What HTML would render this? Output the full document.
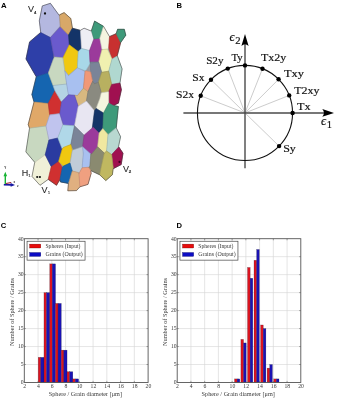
<!DOCTYPE html>
<html><head><meta charset="utf-8"><title>Figure</title>
<style>
html,body{margin:0;padding:0;background:#fff;}
svg{display:block}
.ss{font-family:"Liberation Sans",sans-serif}
.sf{font-family:"Liberation Serif",serif}
</style></head><body>
<svg width="337" height="400" viewBox="0 0 337 400">
<rect width="337" height="400" fill="#fff"/>

<g id="panelA" stroke-linejoin="round">
<polygon fill="#9a9aa0" points="40.7,32.3 29.6,41.9 26.0,59.0 36.2,76.7 31.9,94.5 34.0,102.0 28.2,124.5 29.5,128.3 25.9,151.9 34.7,162.3 32.0,176.4 40.0,185.3 48.2,179.4 56.5,185.3 59.5,180.2 59.8,180.0 60.1,180.3 60.4,181.9 68.4,183.5 67.8,190.8 76.5,190.6 80.0,186.8 88.0,184.4 91.2,173.3 90.8,171.0 90.9,170.7 99.7,174.8 105.8,180.6 112.4,174.7 113.2,168.7 121.2,164.6 123.0,153.2 118.5,146.6 120.6,136.7 116.3,127.8 118.4,106.5 114.3,105.6 114.1,105.3 114.2,105.0 118.4,103.2 121.4,89.8 120.0,83.0 122.1,68.9 117.3,55.7 120.7,42.6 125.8,35.2 124.3,29.3 117.6,29.3 116.1,33.7 109.5,36.5 103.5,26.3 94.6,21.1 91.2,31.0 84.1,28.2 80.4,30.3 72.5,28.2 70.8,18.5 64.1,12.6 59.6,14.8 59.4,15.2 59.1,15.2 50.4,3.3 42.3,5.9 39.3,20.8 40.7,32.3"/>
<g stroke-width="0.5">
<polygon fill="#B4B8E0" stroke="#B4B8E0" points="42.3,5.9 50.4,3.3 59.3,15.6 60.0,26.0 50.4,37.5 40.8,32.5 39.3,20.8"/>
<polygon fill="#2E3FA8" stroke="#2E3FA8" points="40.8,32.5 50.4,37.5 53.4,53.7 53.4,59.0 48.2,73.0 36.3,76.7 26.0,59.0 29.6,41.9"/>
<polygon fill="#1565B0" stroke="#1565B0" points="36.3,76.7 48.2,73.0 54.9,90.8 48.2,103.4 34.1,101.9 31.9,94.5"/>
<polygon fill="#E0A868" stroke="#E0A868" points="34.1,102.0 48.2,103.5 49.7,114.8 46.0,126.0 29.6,128.2 28.2,124.5"/>
<polygon fill="#C8D8C0" stroke="#C8D8C0" points="29.6,128.2 46.0,126.0 48.9,140.0 45.2,154.8 34.8,162.3 25.9,151.9"/>
<polygon fill="#F0F0D8" stroke="#F0F0D8" points="34.8,162.3 45.2,154.8 51.2,166.7 48.2,179.3 40.0,185.3 32.0,176.4"/>
<polygon fill="#D03030" stroke="#D03030" points="54.9,90.8 61.5,101.9 59.8,113.6 49.7,115.3 48.2,103.4"/>
<polygon fill="#C0C4EE" stroke="#C0C4EE" points="49.7,114.8 59.8,113.6 62.8,124.8 57.8,137.8 48.9,140.0 46.0,126.0"/>
<polygon fill="#2A3BA0" stroke="#2A3BA0" points="48.9,140.0 57.8,138.0 62.2,149.0 58.6,161.5 51.2,166.7 45.2,154.8"/>
<polygon fill="#D03030" stroke="#D03030" points="51.2,166.7 58.6,161.5 62.3,167.4 60.0,179.3 56.5,185.3 48.2,179.3"/>
<polygon fill="#6A5ACD" stroke="#6A5ACD" points="50.4,37.5 60.4,26.7 68.5,34.9 69.3,44.8 63.0,57.8 55.0,57.0 53.4,53.7"/>
<polygon fill="#D8A868" stroke="#D8A868" points="59.6,14.8 64.1,12.6 70.8,18.5 72.3,28.2 68.5,34.9 60.4,26.7"/>
<polygon fill="#143468" stroke="#143468" points="72.3,28.2 80.4,30.4 81.5,48.3 78.2,51.5 69.3,44.8 68.5,34.9"/>
<polygon fill="#EEEEF4" stroke="#EEEEF4" points="80.4,30.4 84.1,28.2 91.3,31.2 93.7,39.3 89.4,50.5 81.5,48.5"/>
<polygon fill="#F0C810" stroke="#F0C810" points="69.3,44.8 78.2,51.5 77.4,67.8 68.5,75.5 64.8,70.8 62.8,58.0"/>
<polygon fill="#C8D8C0" stroke="#C8D8C0" points="53.4,59.0 55.0,57.0 63.0,57.8 64.8,70.8 66.6,84.0 53.0,85.5 48.3,73.0"/>
<polygon fill="#B4D4E4" stroke="#B4D4E4" points="53.0,85.5 66.6,84.0 68.4,94.8 61.5,101.9 54.9,90.8"/>
<polygon fill="#A8C0F0" stroke="#A8C0F0" points="64.8,70.8 68.5,75.5 77.4,67.8 85.0,71.5 83.4,88.2 77.4,95.6 74.5,95.2 68.4,94.8 66.0,80.0"/>
<polygon fill="#A8D8E8" stroke="#A8D8E8" points="78.2,51.5 81.5,48.4 89.4,50.5 90.0,63.5 85.6,70.8 77.4,67.8"/>
<polygon fill="#9B3A9B" stroke="#9B3A9B" points="93.9,38.9 99.8,38.2 102.0,49.6 98.7,61.9 91.7,63.0 90.0,62.0 89.4,51.0"/>
<polygon fill="#3E9A7A" stroke="#3E9A7A" points="91.5,30.8 94.6,21.1 103.5,26.3 99.8,38.2 93.9,38.9"/>
<polygon fill="#F5F5E0" stroke="#F5F5E0" points="103.5,26.3 109.5,36.7 108.7,47.8 107.3,49.3 102.0,49.6 99.8,38.2"/>
<polygon fill="#C83030" stroke="#C83030" points="109.5,36.7 116.2,33.7 120.6,42.6 117.2,55.8 112.0,58.8 108.7,47.8"/>
<polygon fill="#3E9A7A" stroke="#3E9A7A" points="116.2,33.7 117.6,29.3 124.3,29.3 125.8,35.2 120.6,42.6"/>
<polygon fill="#F0F0B0" stroke="#F0F0B0" points="102.0,49.6 107.3,48.9 112.0,59.0 108.7,71.2 101.7,72.2 98.7,61.9"/>
<polygon fill="#B0D8D0" stroke="#B0D8D0" points="112.0,59.0 117.4,56.0 122.1,68.9 119.9,83.0 111.7,84.4 108.7,71.2"/>
<polygon fill="#7A8498" stroke="#7A8498" points="90.0,62.0 98.7,61.9 101.7,72.2 98.4,82.3 94.6,83.8 92.6,81.2 90.7,72.0"/>
<polygon fill="#B8B060" stroke="#B8B060" points="101.7,72.2 108.7,71.2 111.7,84.4 108.7,91.7 101.3,92.8 98.4,82.3"/>
<polygon fill="#A01050" stroke="#A01050" points="111.7,84.4 119.9,83.0 121.4,89.8 118.4,103.2 113.2,105.4 108.7,102.5 108.7,91.7"/>
<polygon fill="#F09878" stroke="#F09878" points="85.0,71.5 85.6,70.8 90.7,72.0 92.6,81.2 88.0,91.5 83.4,88.2"/>
<polygon fill="#D8B880" stroke="#D8B880" points="77.4,95.6 83.4,88.2 88.0,91.5 86.4,101.1 78.2,106.3 74.5,95.2"/>
<polygon fill="#8A8A80" stroke="#8A8A80" points="88.0,91.5 92.6,81.2 94.6,83.8 98.4,82.3 101.3,92.8 99.8,98.7 96.1,108.4 94.5,110.8 86.4,101.1"/>
<polygon fill="#F5F5E0" stroke="#F5F5E0" points="101.3,92.8 108.7,91.7 108.7,103.2 103.5,113.0 96.1,108.4 99.8,98.7"/>
<polygon fill="#6A5ACD" stroke="#6A5ACD" points="68.4,94.8 74.5,95.2 78.2,106.3 74.5,125.8 63.5,125.0 59.8,113.6 61.5,101.9"/>
<polygon fill="#E8E6F2" stroke="#E8E6F2" points="78.2,106.3 86.4,101.1 94.5,110.8 92.3,127.9 84.1,135.2 74.5,125.8"/>
<polygon fill="#143468" stroke="#143468" points="94.5,110.8 96.1,108.4 103.5,113.0 102.8,128.5 99.1,133.0 93.2,127.3 92.3,127.9"/>
<polygon fill="#3E9A7A" stroke="#3E9A7A" points="103.5,113.0 108.7,103.2 113.2,105.4 118.4,106.5 116.2,127.8 108.0,134.5 102.8,128.5"/>
<polygon fill="#B0D8E8" stroke="#B0D8E8" points="62.8,124.8 63.5,125.0 74.5,125.8 70.8,144.5 63.4,147.4 62.2,149.0 57.8,137.8"/>
<polygon fill="#7A8498" stroke="#7A8498" points="74.5,125.8 84.1,135.2 82.6,146.7 73.7,149.7 70.8,144.5"/>
<polygon fill="#9B3A9B" stroke="#9B3A9B" points="84.1,135.2 92.3,127.9 93.2,127.3 99.1,133.0 97.6,146.8 91.7,153.9 90.8,154.1 82.6,146.7"/>
<polygon fill="#F0E8A0" stroke="#F0E8A0" points="99.1,133.0 102.8,128.5 108.0,134.5 106.6,151.0 104.3,153.1 97.6,146.8"/>
<polygon fill="#B8D8D0" stroke="#B8D8D0" points="108.0,134.5 116.2,127.8 120.6,136.7 118.4,146.9 111.7,154.6 106.6,151.0"/>
<polygon fill="#A01050" stroke="#A01050" points="111.7,154.6 118.8,146.9 123.0,153.2 121.2,164.6 113.5,168.6 113.2,167.3"/>
<polygon fill="#F0C810" stroke="#F0C810" points="63.4,147.4 70.8,144.5 72.3,150.4 70.0,163.0 63.4,166.0 58.6,161.5 62.2,149.0"/>
<polygon fill="#C0CCD8" stroke="#C0CCD8" points="72.3,150.4 73.7,149.7 82.6,146.7 83.3,153.6 82.1,167.8 79.0,173.5 78.5,172.5 72.3,171.0 70.0,163.0"/>
<polygon fill="#A8C0F0" stroke="#A8C0F0" points="82.6,146.7 90.8,154.1 89.8,166.6 88.6,167.2 82.1,167.8 83.3,153.6"/>
<polygon fill="#8A8A70" stroke="#8A8A70" points="90.8,154.1 91.7,153.9 97.6,146.8 104.3,153.1 100.8,168.7 99.7,174.8 90.6,170.3 88.6,167.2 89.8,166.6"/>
<polygon fill="#C0B860" stroke="#C0B860" points="104.3,153.1 106.6,151.0 111.7,154.6 113.2,167.3 112.4,174.7 105.8,180.6 99.7,174.8 100.8,168.7"/>
<polygon fill="#1565B0" stroke="#1565B0" points="62.3,167.4 63.4,166.0 70.0,163.0 72.3,171.0 68.5,183.4 60.4,181.9 60.0,179.3"/>
<polygon fill="#E0B080" stroke="#E0B080" points="72.3,171.0 78.5,172.5 79.0,175.0 79.9,186.8 76.5,190.6 67.8,190.8 68.5,183.4"/>
<polygon fill="#F0A080" stroke="#F0A080" points="82.1,167.8 88.6,167.2 90.6,170.3 91.2,173.3 88.0,184.4 79.9,186.8 79.0,175.0 79.0,173.5"/>
</g>
<g fill="none" stroke="#222" stroke-opacity="0.16" stroke-width="0.4">
<polygon points="42.3,5.9 50.4,3.3 59.3,15.6 60.0,26.0 50.4,37.5 40.8,32.5 39.3,20.8"/>
<polygon points="40.8,32.5 50.4,37.5 53.4,53.7 53.4,59.0 48.2,73.0 36.3,76.7 26.0,59.0 29.6,41.9"/>
<polygon points="36.3,76.7 48.2,73.0 54.9,90.8 48.2,103.4 34.1,101.9 31.9,94.5"/>
<polygon points="34.1,102.0 48.2,103.5 49.7,114.8 46.0,126.0 29.6,128.2 28.2,124.5"/>
<polygon points="29.6,128.2 46.0,126.0 48.9,140.0 45.2,154.8 34.8,162.3 25.9,151.9"/>
<polygon points="34.8,162.3 45.2,154.8 51.2,166.7 48.2,179.3 40.0,185.3 32.0,176.4"/>
<polygon points="54.9,90.8 61.5,101.9 59.8,113.6 49.7,115.3 48.2,103.4"/>
<polygon points="49.7,114.8 59.8,113.6 62.8,124.8 57.8,137.8 48.9,140.0 46.0,126.0"/>
<polygon points="48.9,140.0 57.8,138.0 62.2,149.0 58.6,161.5 51.2,166.7 45.2,154.8"/>
<polygon points="51.2,166.7 58.6,161.5 62.3,167.4 60.0,179.3 56.5,185.3 48.2,179.3"/>
<polygon points="50.4,37.5 60.4,26.7 68.5,34.9 69.3,44.8 63.0,57.8 55.0,57.0 53.4,53.7"/>
<polygon points="59.6,14.8 64.1,12.6 70.8,18.5 72.3,28.2 68.5,34.9 60.4,26.7"/>
<polygon points="72.3,28.2 80.4,30.4 81.5,48.3 78.2,51.5 69.3,44.8 68.5,34.9"/>
<polygon points="80.4,30.4 84.1,28.2 91.3,31.2 93.7,39.3 89.4,50.5 81.5,48.5"/>
<polygon points="69.3,44.8 78.2,51.5 77.4,67.8 68.5,75.5 64.8,70.8 62.8,58.0"/>
<polygon points="53.4,59.0 55.0,57.0 63.0,57.8 64.8,70.8 66.6,84.0 53.0,85.5 48.3,73.0"/>
<polygon points="53.0,85.5 66.6,84.0 68.4,94.8 61.5,101.9 54.9,90.8"/>
<polygon points="64.8,70.8 68.5,75.5 77.4,67.8 85.0,71.5 83.4,88.2 77.4,95.6 74.5,95.2 68.4,94.8 66.0,80.0"/>
<polygon points="78.2,51.5 81.5,48.4 89.4,50.5 90.0,63.5 85.6,70.8 77.4,67.8"/>
<polygon points="93.9,38.9 99.8,38.2 102.0,49.6 98.7,61.9 91.7,63.0 90.0,62.0 89.4,51.0"/>
<polygon points="91.5,30.8 94.6,21.1 103.5,26.3 99.8,38.2 93.9,38.9"/>
<polygon points="103.5,26.3 109.5,36.7 108.7,47.8 107.3,49.3 102.0,49.6 99.8,38.2"/>
<polygon points="109.5,36.7 116.2,33.7 120.6,42.6 117.2,55.8 112.0,58.8 108.7,47.8"/>
<polygon points="116.2,33.7 117.6,29.3 124.3,29.3 125.8,35.2 120.6,42.6"/>
<polygon points="102.0,49.6 107.3,48.9 112.0,59.0 108.7,71.2 101.7,72.2 98.7,61.9"/>
<polygon points="112.0,59.0 117.4,56.0 122.1,68.9 119.9,83.0 111.7,84.4 108.7,71.2"/>
<polygon points="90.0,62.0 98.7,61.9 101.7,72.2 98.4,82.3 94.6,83.8 92.6,81.2 90.7,72.0"/>
<polygon points="101.7,72.2 108.7,71.2 111.7,84.4 108.7,91.7 101.3,92.8 98.4,82.3"/>
<polygon points="111.7,84.4 119.9,83.0 121.4,89.8 118.4,103.2 113.2,105.4 108.7,102.5 108.7,91.7"/>
<polygon points="85.0,71.5 85.6,70.8 90.7,72.0 92.6,81.2 88.0,91.5 83.4,88.2"/>
<polygon points="77.4,95.6 83.4,88.2 88.0,91.5 86.4,101.1 78.2,106.3 74.5,95.2"/>
<polygon points="88.0,91.5 92.6,81.2 94.6,83.8 98.4,82.3 101.3,92.8 99.8,98.7 96.1,108.4 94.5,110.8 86.4,101.1"/>
<polygon points="101.3,92.8 108.7,91.7 108.7,103.2 103.5,113.0 96.1,108.4 99.8,98.7"/>
<polygon points="68.4,94.8 74.5,95.2 78.2,106.3 74.5,125.8 63.5,125.0 59.8,113.6 61.5,101.9"/>
<polygon points="78.2,106.3 86.4,101.1 94.5,110.8 92.3,127.9 84.1,135.2 74.5,125.8"/>
<polygon points="94.5,110.8 96.1,108.4 103.5,113.0 102.8,128.5 99.1,133.0 93.2,127.3 92.3,127.9"/>
<polygon points="103.5,113.0 108.7,103.2 113.2,105.4 118.4,106.5 116.2,127.8 108.0,134.5 102.8,128.5"/>
<polygon points="62.8,124.8 63.5,125.0 74.5,125.8 70.8,144.5 63.4,147.4 62.2,149.0 57.8,137.8"/>
<polygon points="74.5,125.8 84.1,135.2 82.6,146.7 73.7,149.7 70.8,144.5"/>
<polygon points="84.1,135.2 92.3,127.9 93.2,127.3 99.1,133.0 97.6,146.8 91.7,153.9 90.8,154.1 82.6,146.7"/>
<polygon points="99.1,133.0 102.8,128.5 108.0,134.5 106.6,151.0 104.3,153.1 97.6,146.8"/>
<polygon points="108.0,134.5 116.2,127.8 120.6,136.7 118.4,146.9 111.7,154.6 106.6,151.0"/>
<polygon points="111.7,154.6 118.8,146.9 123.0,153.2 121.2,164.6 113.5,168.6 113.2,167.3"/>
<polygon points="63.4,147.4 70.8,144.5 72.3,150.4 70.0,163.0 63.4,166.0 58.6,161.5 62.2,149.0"/>
<polygon points="72.3,150.4 73.7,149.7 82.6,146.7 83.3,153.6 82.1,167.8 79.0,173.5 78.5,172.5 72.3,171.0 70.0,163.0"/>
<polygon points="82.6,146.7 90.8,154.1 89.8,166.6 88.6,167.2 82.1,167.8 83.3,153.6"/>
<polygon points="90.8,154.1 91.7,153.9 97.6,146.8 104.3,153.1 100.8,168.7 99.7,174.8 90.6,170.3 88.6,167.2 89.8,166.6"/>
<polygon points="104.3,153.1 106.6,151.0 111.7,154.6 113.2,167.3 112.4,174.7 105.8,180.6 99.7,174.8 100.8,168.7"/>
<polygon points="62.3,167.4 63.4,166.0 70.0,163.0 72.3,171.0 68.5,183.4 60.4,181.9 60.0,179.3"/>
<polygon points="72.3,171.0 78.5,172.5 79.0,175.0 79.9,186.8 76.5,190.6 67.8,190.8 68.5,183.4"/>
<polygon points="82.1,167.8 88.6,167.2 90.6,170.3 91.2,173.3 88.0,184.4 79.9,186.8 79.0,175.0 79.0,173.5"/>
</g>
<polygon fill="none" stroke="#333" stroke-opacity="0.85" stroke-width="0.55" points="40.7,32.3 29.6,41.9 26.0,59.0 36.2,76.7 31.9,94.5 34.0,102.0 28.2,124.5 29.5,128.3 25.9,151.9 34.7,162.3 32.0,176.4 40.0,185.3 48.2,179.4 56.5,185.3 59.5,180.2 59.8,180.0 60.1,180.3 60.4,181.9 68.4,183.5 67.8,190.8 76.5,190.6 80.0,186.8 88.0,184.4 91.2,173.3 90.8,171.0 90.9,170.7 99.7,174.8 105.8,180.6 112.4,174.7 113.2,168.7 121.2,164.6 123.0,153.2 118.5,146.6 120.6,136.7 116.3,127.8 118.4,106.5 114.3,105.6 114.1,105.3 114.2,105.0 118.4,103.2 121.4,89.8 120.0,83.0 122.1,68.9 117.3,55.7 120.7,42.6 125.8,35.2 124.3,29.3 117.6,29.3 116.1,33.7 109.5,36.5 103.5,26.3 94.6,21.1 91.2,31.0 84.1,28.2 80.4,30.3 72.5,28.2 70.8,18.5 64.1,12.6 59.6,14.8 59.4,15.2 59.1,15.2 50.4,3.3 42.3,5.9 39.3,20.8 40.7,32.3"/>
</g>
<g class="ss" fill="#333">
<text x="1.1" y="7.7" font-size="7.8" font-weight="bold" fill="#000" stroke="none">A</text>
<g fill="#2a2a2a" stroke="#2a2a2a" stroke-width="0.1" font-size="9">
<text x="27.9" y="12.3">V<tspan font-size="4.2" dx="0.1" dy="1.5" font-weight="bold">4</tspan></text>
<text x="21.8" y="175.7">H<tspan font-size="4.4" dx="0" dy="1.7">1</tspan></text>
<text x="41.6" y="192.8">V<tspan font-size="4.4" dx="0.2" dy="1.6">1</tspan></text>
<text x="123.1" y="171.5">V<tspan font-size="4.4" dx="-0.3" dy="1.8" font-weight="bold">2</tspan></text>
</g>
</g>
<g fill="#111">
<circle cx="45" cy="13.5" r="1.15"/>
<circle cx="37.2" cy="177" r="1.1"/>
<circle cx="39.9" cy="177" r="1.1"/>
<circle cx="119.5" cy="161.9" r="1.1" fill="#400020"/>
</g>
<g id="triad">
<line x1="5.3" y1="184.4" x2="5.3" y2="175.6" stroke="#18b434" stroke-width="1.4"/>
<polygon points="5.3,171.7 7.1,176.3 3.5,176.3" fill="#18b434"/>
<line x1="6" y1="183.5" x2="11.2" y2="182.5" stroke="#9c1828" stroke-width="1.1"/>
<line x1="3.8" y1="184.7" x2="11.6" y2="184.9" stroke="#1a1aa4" stroke-width="1.6"/>
<polygon points="15,184.9 10.6,183 10.6,186.8" fill="#1a1aa4"/>
<text class="ss" x="4.3" y="168.6" font-size="3" fill="#222" font-weight="bold">Y</text>
<text class="ss" x="13.6" y="183.2" font-size="3" fill="#222" font-weight="bold">x</text>
<text class="ss" x="16.9" y="186.8" font-size="3.2" fill="#222" font-weight="bold">z</text>
</g>

<g id="panelB">
<text class="ss" x="176.5" y="7.7" font-size="7.6" font-weight="bold" fill="#000">B</text>
<line x1="245.0" y1="112.95" x2="289.2" y2="95.4" stroke="#c6c6c6" stroke-width="0.9"/>
<line x1="245.0" y1="112.95" x2="278.6" y2="79.3" stroke="#c6c6c6" stroke-width="0.9"/>
<line x1="245.0" y1="112.95" x2="262.5" y2="68.7" stroke="#c6c6c6" stroke-width="0.9"/>
<line x1="245.0" y1="112.95" x2="227.8" y2="68.6" stroke="#c6c6c6" stroke-width="0.9"/>
<line x1="245.0" y1="112.95" x2="211.0" y2="79.7" stroke="#c6c6c6" stroke-width="0.9"/>
<line x1="245.0" y1="112.95" x2="200.7" y2="95.8" stroke="#c6c6c6" stroke-width="0.9"/>
<line x1="245.0" y1="112.95" x2="279.1" y2="146.1" stroke="#c6c6c6" stroke-width="0.9"/>
<line x1="183.4" y1="112.95" x2="327" y2="112.95" stroke="#4a4a4a" stroke-width="1.4"/>
<line x1="245.0" y1="168.3" x2="245.0" y2="42" stroke="#4a4a4a" stroke-width="1.4"/>
<path d="M334,112.95 L322.3,109.05 Q325.6,112.95 322.3,116.85000000000001 Z" fill="#000"/>
<path d="M245.0,34.1 L241.4,45.9 Q245.0,42.6 248.6,45.9 Z" fill="#000"/>
<circle cx="245.0" cy="112.95" r="47.55" fill="none" stroke="#111" stroke-width="1.1"/>
<circle cx="292.6" cy="113.0" r="2.2" fill="#000"/>
<circle cx="289.2" cy="95.4" r="2.2" fill="#000"/>
<circle cx="278.6" cy="79.3" r="2.2" fill="#000"/>
<circle cx="262.5" cy="68.7" r="2.2" fill="#000"/>
<circle cx="245.0" cy="65.4" r="2.2" fill="#000"/>
<circle cx="227.8" cy="68.6" r="2.2" fill="#000"/>
<circle cx="211.0" cy="79.7" r="2.2" fill="#000"/>
<circle cx="200.7" cy="95.8" r="2.2" fill="#000"/>
<circle cx="279.1" cy="146.1" r="2.2" fill="#000"/>
<g class="sf" font-size="11.4" fill="#111" stroke="#111" stroke-width="0.18">
<text x="231.5" y="60.7" textLength="11.2" lengthAdjust="spacingAndGlyphs">Ty</text>
<text x="206.2" y="64" textLength="17.3" lengthAdjust="spacingAndGlyphs">S2y</text>
<text x="192.3" y="80.9" textLength="12.2" lengthAdjust="spacingAndGlyphs">Sx</text>
<text x="176.1" y="97.8" textLength="18" lengthAdjust="spacingAndGlyphs">S2x</text>
<text x="261" y="61.2" textLength="25.3" lengthAdjust="spacingAndGlyphs">Tx2y</text>
<text x="283.9" y="77.2" textLength="20" lengthAdjust="spacingAndGlyphs">Txy</text>
<text x="294.3" y="94.2" textLength="25.2" lengthAdjust="spacingAndGlyphs">T2xy</text>
<text x="297.1" y="110.3" textLength="13.6" lengthAdjust="spacingAndGlyphs">Tx</text>
<text x="283.2" y="152.4" textLength="12.6" lengthAdjust="spacingAndGlyphs">Sy</text>
<text x="229.4" y="41" font-size="12.5" font-style="italic">ϵ<tspan font-size="10.6" font-style="normal" dx="0.7" dy="3">2</tspan></text>
<text x="320.9" y="124.7" font-size="12.5" font-style="italic">ϵ<tspan font-size="10.6" font-style="normal" dx="0.7" dy="3">1</tspan></text>
</g>
</g>
<g id="panelC">
<text class="ss" x="0.85" y="227.8" font-size="7.6" font-weight="bold" fill="#000">C</text>
<rect x="24.3" y="238.7" width="123.80" height="143.80" fill="#fff"/>
<line x1="38.06" y1="238.7" x2="38.06" y2="382.5" stroke="#d4d4d4" stroke-width="0.6"/>
<line x1="51.81" y1="238.7" x2="51.81" y2="382.5" stroke="#d4d4d4" stroke-width="0.6"/>
<line x1="65.57" y1="238.7" x2="65.57" y2="382.5" stroke="#d4d4d4" stroke-width="0.6"/>
<line x1="79.32" y1="238.7" x2="79.32" y2="382.5" stroke="#d4d4d4" stroke-width="0.6"/>
<line x1="93.08" y1="238.7" x2="93.08" y2="382.5" stroke="#d4d4d4" stroke-width="0.6"/>
<line x1="106.83" y1="238.7" x2="106.83" y2="382.5" stroke="#d4d4d4" stroke-width="0.6"/>
<line x1="120.59" y1="238.7" x2="120.59" y2="382.5" stroke="#d4d4d4" stroke-width="0.6"/>
<line x1="134.34" y1="238.7" x2="134.34" y2="382.5" stroke="#d4d4d4" stroke-width="0.6"/>
<line x1="24.3" y1="364.52" x2="148.1" y2="364.52" stroke="#d4d4d4" stroke-width="0.6"/>
<line x1="24.3" y1="346.55" x2="148.1" y2="346.55" stroke="#d4d4d4" stroke-width="0.6"/>
<line x1="24.3" y1="328.57" x2="148.1" y2="328.57" stroke="#d4d4d4" stroke-width="0.6"/>
<line x1="24.3" y1="310.60" x2="148.1" y2="310.60" stroke="#d4d4d4" stroke-width="0.6"/>
<line x1="24.3" y1="292.62" x2="148.1" y2="292.62" stroke="#d4d4d4" stroke-width="0.6"/>
<line x1="24.3" y1="274.65" x2="148.1" y2="274.65" stroke="#d4d4d4" stroke-width="0.6"/>
<line x1="24.3" y1="256.68" x2="148.1" y2="256.68" stroke="#d4d4d4" stroke-width="0.6"/>
<line x1="38.06" y1="382.5" x2="38.06" y2="380.9" stroke="#555" stroke-width="0.5"/>
<line x1="38.06" y1="238.7" x2="38.06" y2="240.29999999999998" stroke="#555" stroke-width="0.5"/>
<line x1="51.81" y1="382.5" x2="51.81" y2="380.9" stroke="#555" stroke-width="0.5"/>
<line x1="51.81" y1="238.7" x2="51.81" y2="240.29999999999998" stroke="#555" stroke-width="0.5"/>
<line x1="65.57" y1="382.5" x2="65.57" y2="380.9" stroke="#555" stroke-width="0.5"/>
<line x1="65.57" y1="238.7" x2="65.57" y2="240.29999999999998" stroke="#555" stroke-width="0.5"/>
<line x1="79.32" y1="382.5" x2="79.32" y2="380.9" stroke="#555" stroke-width="0.5"/>
<line x1="79.32" y1="238.7" x2="79.32" y2="240.29999999999998" stroke="#555" stroke-width="0.5"/>
<line x1="93.08" y1="382.5" x2="93.08" y2="380.9" stroke="#555" stroke-width="0.5"/>
<line x1="93.08" y1="238.7" x2="93.08" y2="240.29999999999998" stroke="#555" stroke-width="0.5"/>
<line x1="106.83" y1="382.5" x2="106.83" y2="380.9" stroke="#555" stroke-width="0.5"/>
<line x1="106.83" y1="238.7" x2="106.83" y2="240.29999999999998" stroke="#555" stroke-width="0.5"/>
<line x1="120.59" y1="382.5" x2="120.59" y2="380.9" stroke="#555" stroke-width="0.5"/>
<line x1="120.59" y1="238.7" x2="120.59" y2="240.29999999999998" stroke="#555" stroke-width="0.5"/>
<line x1="134.34" y1="382.5" x2="134.34" y2="380.9" stroke="#555" stroke-width="0.5"/>
<line x1="134.34" y1="238.7" x2="134.34" y2="240.29999999999998" stroke="#555" stroke-width="0.5"/>
<line x1="24.3" y1="364.52" x2="25.900000000000002" y2="364.52" stroke="#555" stroke-width="0.5"/>
<line x1="148.1" y1="364.52" x2="146.5" y2="364.52" stroke="#555" stroke-width="0.5"/>
<line x1="24.3" y1="346.55" x2="25.900000000000002" y2="346.55" stroke="#555" stroke-width="0.5"/>
<line x1="148.1" y1="346.55" x2="146.5" y2="346.55" stroke="#555" stroke-width="0.5"/>
<line x1="24.3" y1="328.57" x2="25.900000000000002" y2="328.57" stroke="#555" stroke-width="0.5"/>
<line x1="148.1" y1="328.57" x2="146.5" y2="328.57" stroke="#555" stroke-width="0.5"/>
<line x1="24.3" y1="310.60" x2="25.900000000000002" y2="310.60" stroke="#555" stroke-width="0.5"/>
<line x1="148.1" y1="310.60" x2="146.5" y2="310.60" stroke="#555" stroke-width="0.5"/>
<line x1="24.3" y1="292.62" x2="25.900000000000002" y2="292.62" stroke="#555" stroke-width="0.5"/>
<line x1="148.1" y1="292.62" x2="146.5" y2="292.62" stroke="#555" stroke-width="0.5"/>
<line x1="24.3" y1="274.65" x2="25.900000000000002" y2="274.65" stroke="#555" stroke-width="0.5"/>
<line x1="148.1" y1="274.65" x2="146.5" y2="274.65" stroke="#555" stroke-width="0.5"/>
<line x1="24.3" y1="256.68" x2="25.900000000000002" y2="256.68" stroke="#555" stroke-width="0.5"/>
<line x1="148.1" y1="256.68" x2="146.5" y2="256.68" stroke="#555" stroke-width="0.5"/>
<rect x="38.20" y="357.33" width="2.54" height="25.17" fill="#dc1420" stroke="#101020" stroke-opacity="0.55" stroke-width="0.35"/>
<rect x="40.74" y="357.33" width="3.23" height="25.17" fill="#1a12b4" stroke="#101020" stroke-opacity="0.55" stroke-width="0.35"/>
<rect x="43.97" y="292.62" width="2.54" height="89.88" fill="#dc1420" stroke="#101020" stroke-opacity="0.55" stroke-width="0.35"/>
<rect x="46.51" y="292.62" width="3.23" height="89.88" fill="#1a12b4" stroke="#101020" stroke-opacity="0.55" stroke-width="0.35"/>
<rect x="49.74" y="263.87" width="2.54" height="118.64" fill="#dc1420" stroke="#101020" stroke-opacity="0.55" stroke-width="0.35"/>
<rect x="52.28" y="263.87" width="3.23" height="118.64" fill="#1a12b4" stroke="#101020" stroke-opacity="0.55" stroke-width="0.35"/>
<rect x="55.51" y="303.41" width="2.54" height="79.09" fill="#dc1420" stroke="#101020" stroke-opacity="0.55" stroke-width="0.35"/>
<rect x="58.05" y="303.41" width="3.23" height="79.09" fill="#1a12b4" stroke="#101020" stroke-opacity="0.55" stroke-width="0.35"/>
<rect x="61.28" y="350.14" width="2.54" height="32.36" fill="#dc1420" stroke="#101020" stroke-opacity="0.55" stroke-width="0.35"/>
<rect x="63.82" y="350.14" width="3.23" height="32.36" fill="#1a12b4" stroke="#101020" stroke-opacity="0.55" stroke-width="0.35"/>
<rect x="67.05" y="371.71" width="2.54" height="10.79" fill="#dc1420" stroke="#101020" stroke-opacity="0.55" stroke-width="0.35"/>
<rect x="69.59" y="371.71" width="3.23" height="10.79" fill="#1a12b4" stroke="#101020" stroke-opacity="0.55" stroke-width="0.35"/>
<rect x="72.82" y="378.90" width="2.54" height="3.60" fill="#dc1420" stroke="#101020" stroke-opacity="0.55" stroke-width="0.35"/>
<rect x="75.36" y="378.90" width="3.23" height="3.60" fill="#1a12b4" stroke="#101020" stroke-opacity="0.55" stroke-width="0.35"/>
<rect x="24.3" y="238.7" width="123.80" height="143.80" fill="none" stroke="#555" stroke-width="0.9"/>
<g class="sf" font-size="5.7" fill="#3a3a3a">
<text x="24.60" y="388.3" text-anchor="middle">2</text>
<text x="38.36" y="388.3" text-anchor="middle">4</text>
<text x="52.11" y="388.3" text-anchor="middle">6</text>
<text x="65.87" y="388.3" text-anchor="middle">8</text>
<text x="79.62" y="388.3" text-anchor="middle">10</text>
<text x="93.38" y="388.3" text-anchor="middle">12</text>
<text x="107.13" y="388.3" text-anchor="middle">14</text>
<text x="120.89" y="388.3" text-anchor="middle">16</text>
<text x="134.64" y="388.3" text-anchor="middle">18</text>
<text x="148.40" y="388.3" text-anchor="middle">20</text>
<text x="23.70" y="384.30" text-anchor="end">0</text>
<text x="23.70" y="366.32" text-anchor="end">5</text>
<text x="23.70" y="348.35" text-anchor="end">10</text>
<text x="23.70" y="330.38" text-anchor="end">15</text>
<text x="23.70" y="312.40" text-anchor="end">20</text>
<text x="23.70" y="294.43" text-anchor="end">25</text>
<text x="23.70" y="276.45" text-anchor="end">30</text>
<text x="23.70" y="258.48" text-anchor="end">35</text>
<text x="23.70" y="240.50" text-anchor="end">40</text>
<text x="48.80" y="395.5" font-size="6.25" textLength="73.2" lengthAdjust="spacingAndGlyphs">Sphere / Grain diameter [μm]</text>
<text transform="translate(13.60,346) rotate(-90)" font-size="6.3" textLength="68" lengthAdjust="spacingAndGlyphs">Number of Sphere / Grains</text>
</g>
<rect x="27.05" y="241.25" width="58" height="18.9" fill="#fff" stroke="#444" stroke-width="0.7"/>
<rect x="29.60" y="244.1" width="11.2" height="3.9" fill="#e80c0c" stroke="#500" stroke-width="0.3"/>
<rect x="29.60" y="252.5" width="11.2" height="3.9" fill="#0c0cc4" stroke="#005" stroke-width="0.3"/>
<g class="sf" font-size="5.75" fill="#3a3a3a"><text x="45.40" y="248.2" textLength="35.1" lengthAdjust="spacingAndGlyphs">Spheres (Input)</text><text x="45.40" y="256.3" textLength="37.4" lengthAdjust="spacingAndGlyphs">Grains (Output)</text></g>
</g>
<g id="panelD">
<text class="ss" x="176.4" y="227.8" font-size="7.6" font-weight="bold" fill="#000">D</text>
<rect x="177.2" y="238.7" width="123.60" height="143.80" fill="#fff"/>
<line x1="190.93" y1="238.7" x2="190.93" y2="382.5" stroke="#d4d4d4" stroke-width="0.6"/>
<line x1="204.67" y1="238.7" x2="204.67" y2="382.5" stroke="#d4d4d4" stroke-width="0.6"/>
<line x1="218.40" y1="238.7" x2="218.40" y2="382.5" stroke="#d4d4d4" stroke-width="0.6"/>
<line x1="232.13" y1="238.7" x2="232.13" y2="382.5" stroke="#d4d4d4" stroke-width="0.6"/>
<line x1="245.87" y1="238.7" x2="245.87" y2="382.5" stroke="#d4d4d4" stroke-width="0.6"/>
<line x1="259.60" y1="238.7" x2="259.60" y2="382.5" stroke="#d4d4d4" stroke-width="0.6"/>
<line x1="273.33" y1="238.7" x2="273.33" y2="382.5" stroke="#d4d4d4" stroke-width="0.6"/>
<line x1="287.07" y1="238.7" x2="287.07" y2="382.5" stroke="#d4d4d4" stroke-width="0.6"/>
<line x1="177.2" y1="364.52" x2="300.8" y2="364.52" stroke="#d4d4d4" stroke-width="0.6"/>
<line x1="177.2" y1="346.55" x2="300.8" y2="346.55" stroke="#d4d4d4" stroke-width="0.6"/>
<line x1="177.2" y1="328.57" x2="300.8" y2="328.57" stroke="#d4d4d4" stroke-width="0.6"/>
<line x1="177.2" y1="310.60" x2="300.8" y2="310.60" stroke="#d4d4d4" stroke-width="0.6"/>
<line x1="177.2" y1="292.62" x2="300.8" y2="292.62" stroke="#d4d4d4" stroke-width="0.6"/>
<line x1="177.2" y1="274.65" x2="300.8" y2="274.65" stroke="#d4d4d4" stroke-width="0.6"/>
<line x1="177.2" y1="256.68" x2="300.8" y2="256.68" stroke="#d4d4d4" stroke-width="0.6"/>
<line x1="190.93" y1="382.5" x2="190.93" y2="380.9" stroke="#555" stroke-width="0.5"/>
<line x1="190.93" y1="238.7" x2="190.93" y2="240.29999999999998" stroke="#555" stroke-width="0.5"/>
<line x1="204.67" y1="382.5" x2="204.67" y2="380.9" stroke="#555" stroke-width="0.5"/>
<line x1="204.67" y1="238.7" x2="204.67" y2="240.29999999999998" stroke="#555" stroke-width="0.5"/>
<line x1="218.40" y1="382.5" x2="218.40" y2="380.9" stroke="#555" stroke-width="0.5"/>
<line x1="218.40" y1="238.7" x2="218.40" y2="240.29999999999998" stroke="#555" stroke-width="0.5"/>
<line x1="232.13" y1="382.5" x2="232.13" y2="380.9" stroke="#555" stroke-width="0.5"/>
<line x1="232.13" y1="238.7" x2="232.13" y2="240.29999999999998" stroke="#555" stroke-width="0.5"/>
<line x1="245.87" y1="382.5" x2="245.87" y2="380.9" stroke="#555" stroke-width="0.5"/>
<line x1="245.87" y1="238.7" x2="245.87" y2="240.29999999999998" stroke="#555" stroke-width="0.5"/>
<line x1="259.60" y1="382.5" x2="259.60" y2="380.9" stroke="#555" stroke-width="0.5"/>
<line x1="259.60" y1="238.7" x2="259.60" y2="240.29999999999998" stroke="#555" stroke-width="0.5"/>
<line x1="273.33" y1="382.5" x2="273.33" y2="380.9" stroke="#555" stroke-width="0.5"/>
<line x1="273.33" y1="238.7" x2="273.33" y2="240.29999999999998" stroke="#555" stroke-width="0.5"/>
<line x1="287.07" y1="382.5" x2="287.07" y2="380.9" stroke="#555" stroke-width="0.5"/>
<line x1="287.07" y1="238.7" x2="287.07" y2="240.29999999999998" stroke="#555" stroke-width="0.5"/>
<line x1="177.2" y1="364.52" x2="178.79999999999998" y2="364.52" stroke="#555" stroke-width="0.5"/>
<line x1="300.8" y1="364.52" x2="299.2" y2="364.52" stroke="#555" stroke-width="0.5"/>
<line x1="177.2" y1="346.55" x2="178.79999999999998" y2="346.55" stroke="#555" stroke-width="0.5"/>
<line x1="300.8" y1="346.55" x2="299.2" y2="346.55" stroke="#555" stroke-width="0.5"/>
<line x1="177.2" y1="328.57" x2="178.79999999999998" y2="328.57" stroke="#555" stroke-width="0.5"/>
<line x1="300.8" y1="328.57" x2="299.2" y2="328.57" stroke="#555" stroke-width="0.5"/>
<line x1="177.2" y1="310.60" x2="178.79999999999998" y2="310.60" stroke="#555" stroke-width="0.5"/>
<line x1="300.8" y1="310.60" x2="299.2" y2="310.60" stroke="#555" stroke-width="0.5"/>
<line x1="177.2" y1="292.62" x2="178.79999999999998" y2="292.62" stroke="#555" stroke-width="0.5"/>
<line x1="300.8" y1="292.62" x2="299.2" y2="292.62" stroke="#555" stroke-width="0.5"/>
<line x1="177.2" y1="274.65" x2="178.79999999999998" y2="274.65" stroke="#555" stroke-width="0.5"/>
<line x1="300.8" y1="274.65" x2="299.2" y2="274.65" stroke="#555" stroke-width="0.5"/>
<line x1="177.2" y1="256.68" x2="178.79999999999998" y2="256.68" stroke="#555" stroke-width="0.5"/>
<line x1="300.8" y1="256.68" x2="299.2" y2="256.68" stroke="#555" stroke-width="0.5"/>
<rect x="234.50" y="378.90" width="2.65" height="3.60" fill="#dc1420" stroke="#101020" stroke-opacity="0.55" stroke-width="0.35"/>
<rect x="237.15" y="378.90" width="2.65" height="3.60" fill="#1a12b4" stroke="#101020" stroke-opacity="0.55" stroke-width="0.35"/>
<rect x="240.90" y="339.36" width="2.65" height="43.14" fill="#dc1420" stroke="#101020" stroke-opacity="0.55" stroke-width="0.35"/>
<rect x="243.55" y="342.95" width="2.65" height="39.55" fill="#1a12b4" stroke="#101020" stroke-opacity="0.55" stroke-width="0.35"/>
<rect x="247.50" y="267.46" width="2.65" height="115.04" fill="#dc1420" stroke="#101020" stroke-opacity="0.55" stroke-width="0.35"/>
<rect x="250.15" y="278.25" width="2.65" height="104.26" fill="#1a12b4" stroke="#101020" stroke-opacity="0.55" stroke-width="0.35"/>
<rect x="254.00" y="260.27" width="2.65" height="122.23" fill="#dc1420" stroke="#101020" stroke-opacity="0.55" stroke-width="0.35"/>
<rect x="256.65" y="249.48" width="2.65" height="133.02" fill="#1a12b4" stroke="#101020" stroke-opacity="0.55" stroke-width="0.35"/>
<rect x="260.60" y="324.98" width="2.65" height="57.52" fill="#dc1420" stroke="#101020" stroke-opacity="0.55" stroke-width="0.35"/>
<rect x="263.25" y="328.57" width="2.65" height="53.93" fill="#1a12b4" stroke="#101020" stroke-opacity="0.55" stroke-width="0.35"/>
<rect x="267.10" y="368.12" width="2.65" height="14.38" fill="#dc1420" stroke="#101020" stroke-opacity="0.55" stroke-width="0.35"/>
<rect x="269.75" y="364.52" width="2.65" height="17.98" fill="#1a12b4" stroke="#101020" stroke-opacity="0.55" stroke-width="0.35"/>
<rect x="273.70" y="378.90" width="2.65" height="3.60" fill="#dc1420" stroke="#101020" stroke-opacity="0.55" stroke-width="0.35"/>
<rect x="276.35" y="378.90" width="2.65" height="3.60" fill="#1a12b4" stroke="#101020" stroke-opacity="0.55" stroke-width="0.35"/>
<rect x="177.2" y="238.7" width="123.60" height="143.80" fill="none" stroke="#555" stroke-width="0.9"/>
<g class="sf" font-size="5.7" fill="#3a3a3a">
<text x="177.50" y="388.3" text-anchor="middle">2</text>
<text x="191.23" y="388.3" text-anchor="middle">4</text>
<text x="204.97" y="388.3" text-anchor="middle">6</text>
<text x="218.70" y="388.3" text-anchor="middle">8</text>
<text x="232.43" y="388.3" text-anchor="middle">10</text>
<text x="246.17" y="388.3" text-anchor="middle">12</text>
<text x="259.90" y="388.3" text-anchor="middle">14</text>
<text x="273.63" y="388.3" text-anchor="middle">16</text>
<text x="287.37" y="388.3" text-anchor="middle">18</text>
<text x="301.10" y="388.3" text-anchor="middle">20</text>
<text x="176.60" y="384.30" text-anchor="end">0</text>
<text x="176.60" y="366.32" text-anchor="end">5</text>
<text x="176.60" y="348.35" text-anchor="end">10</text>
<text x="176.60" y="330.38" text-anchor="end">15</text>
<text x="176.60" y="312.40" text-anchor="end">20</text>
<text x="176.60" y="294.43" text-anchor="end">25</text>
<text x="176.60" y="276.45" text-anchor="end">30</text>
<text x="176.60" y="258.48" text-anchor="end">35</text>
<text x="176.60" y="240.50" text-anchor="end">40</text>
<text x="201.60" y="395.5" font-size="6.25" textLength="73.2" lengthAdjust="spacingAndGlyphs">Sphere / Grain diameter [μm]</text>
<text transform="translate(166.50,346) rotate(-90)" font-size="6.3" textLength="68" lengthAdjust="spacingAndGlyphs">Number of Sphere / Grains</text>
</g>
<rect x="179.95" y="241.25" width="58" height="18.9" fill="#fff" stroke="#444" stroke-width="0.7"/>
<rect x="182.50" y="244.1" width="11.2" height="3.9" fill="#e80c0c" stroke="#500" stroke-width="0.3"/>
<rect x="182.50" y="252.5" width="11.2" height="3.9" fill="#0c0cc4" stroke="#005" stroke-width="0.3"/>
<g class="sf" font-size="5.75" fill="#3a3a3a"><text x="198.30" y="248.2" textLength="35.1" lengthAdjust="spacingAndGlyphs">Spheres (Input)</text><text x="198.30" y="256.3" textLength="37.4" lengthAdjust="spacingAndGlyphs">Grains (Output)</text></g>
</g>
</svg></body></html>
